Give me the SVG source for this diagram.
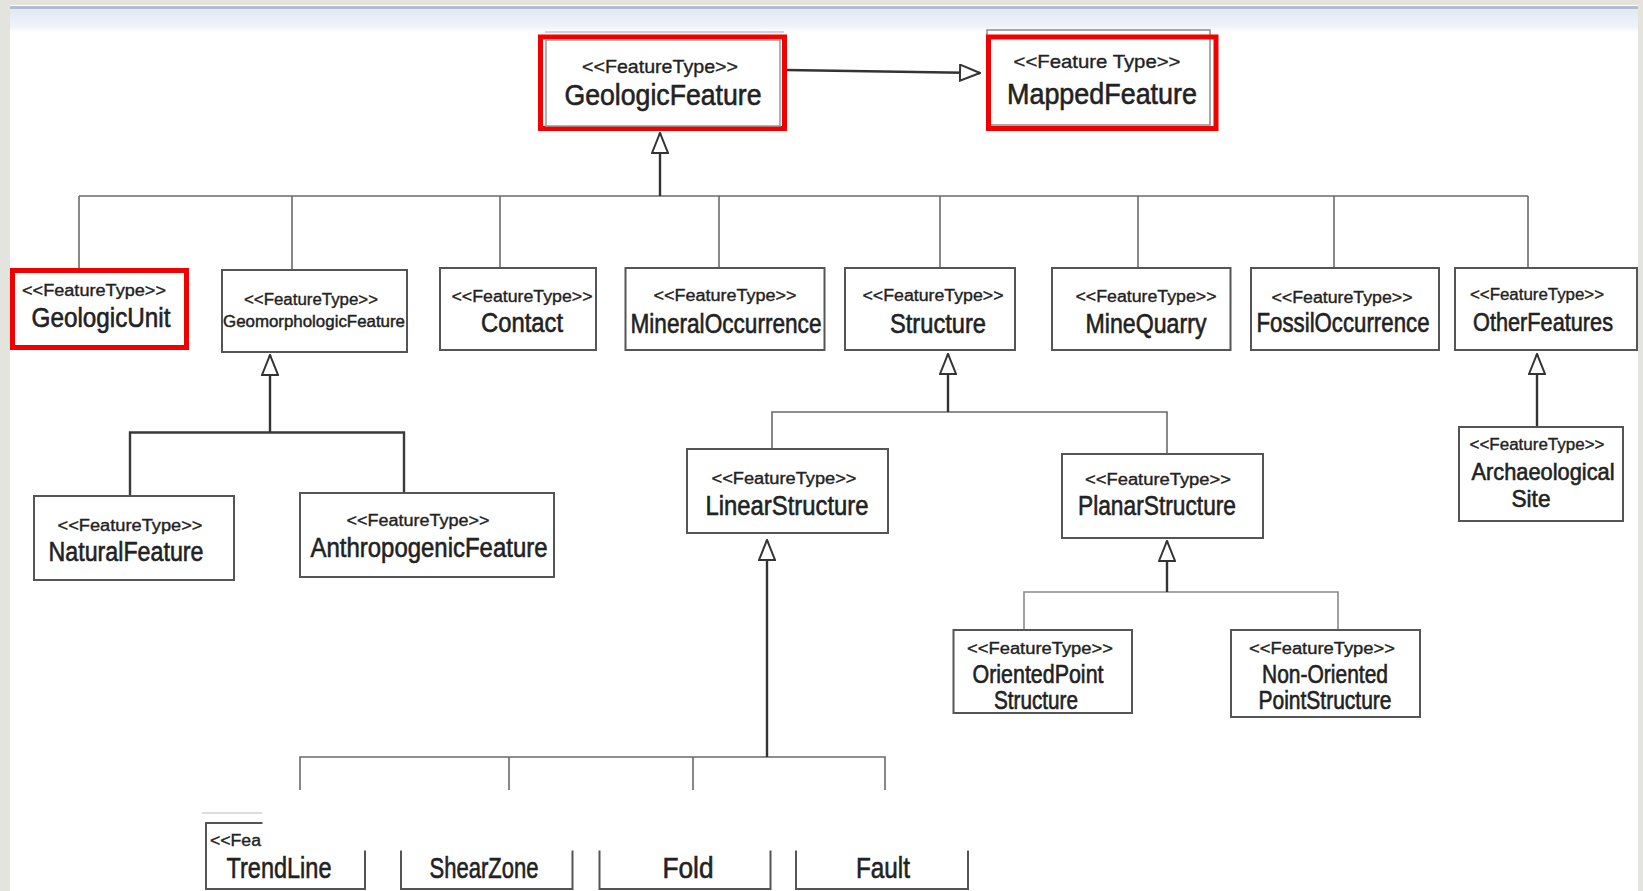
<svg xmlns="http://www.w3.org/2000/svg" width="1643" height="891" viewBox="0 0 1643 891">
<style>
.box{fill:#fff;stroke:#555;stroke-width:2}
.hl{fill:#fff;stroke:#f20000;stroke-width:5}
.ghost{fill:none;stroke:#999;stroke-width:1.5}
.st{font-family:"Liberation Sans",Arial,Helvetica,sans-serif;font-size:16px;fill:#222;stroke:#222;stroke-width:0.35;text-anchor:middle}
.nm{font-family:"Liberation Sans",Arial,Helvetica,sans-serif;font-size:27px;fill:#222;stroke:#222;stroke-width:0.6;text-anchor:middle}
.bus{fill:none;stroke:#6b6b6b;stroke-width:1.6}
.dk{fill:none;stroke:#3a3a3a;stroke-width:2.4}
.inh{fill:none;stroke:#333;stroke-width:2.4;marker-end:url(#tri)}
</style>
<defs>
<marker id="tri" viewBox="0 0 22 18" refX="21" refY="9" markerWidth="22" markerHeight="18" markerUnits="userSpaceOnUse" orient="auto">
<path d="M1,1 L21,9 L1,17 Z" fill="#fff" stroke="#333" stroke-width="2"/>
</marker>
<linearGradient id="band" x1="0" y1="0" x2="0" y2="1">
<stop offset="0" stop-color="#e2e9f5"/>
<stop offset="0.7" stop-color="#eef2f9"/>
<stop offset="1" stop-color="#ffffff"/>
</linearGradient>
</defs>
<g id="background">
<rect x="0" y="0" width="1643" height="891" fill="#fff"/>
<rect x="0" y="9" width="1643" height="24" fill="url(#band)"/>
<rect x="0" y="0" width="1643" height="5" fill="#e3e3de"/>
<line x1="0" y1="7.5" x2="1643" y2="7.5" stroke="#b2bdcf" stroke-width="3"/>
<rect x="0" y="0" width="10" height="891" fill="#e4e4df"/>
<rect x="1638" y="0" width="5" height="891" fill="#e4e4df"/>
</g>
<g id="connectors">
<path class="inh" d="M786,70 L980,73"/>
<path class="bus" d="M79,196 H1528"/>
<path class="bus" d="M79,196 V268 M292,196 V270 M500,196 V268 M719,196 V268 M940,196 V268 M1138,196 V268 M1334,196 V268 M1528,196 V268"/>
<path class="inh" d="M660,196 V133"/>
<path class="dk" d="M130,496 V432.5 H404 V493"/>
<path class="inh" d="M270,432.5 V355"/>
<path class="bus" d="M772,449 V412 H1167 V454"/>
<path class="inh" d="M948,412 V354"/>
<path class="inh" d="M1537,427 V354"/>
<path class="bus" d="M1024,630 V592 H1338 V630" style="stroke:#8a8a8a"/>
<path class="inh" d="M1167,592 V541"/>
<path class="bus" d="M300,790 V757 H885 V790 M509,757 V790 M693,757 V790"/>
<path class="inh" d="M767,757 V540"/>
</g>
<g id="geologic-feature">
<line class="ghost" x1="545" y1="32" x2="784" y2="32" style="stroke:#c4c4c4"/>
<rect class="hl" x="540.5" y="37" width="244" height="91.5"/>
<rect class="ghost" x="546" y="40" width="234" height="86"/>
<text class="st" x="660" y="73" style="font-size:19px" textLength="156" lengthAdjust="spacingAndGlyphs">&lt;&lt;FeatureType&gt;&gt;</text>
<text class="nm" x="663" y="105" style="font-size:30px" textLength="197" lengthAdjust="spacingAndGlyphs">GeologicFeature</text>
</g>
<g id="mapped-feature">
<rect class="ghost" x="987" y="30" width="223" height="95" style="stroke:#8c8c8c"/>
<rect class="hl" x="988.5" y="37" width="227.5" height="91.5" style="fill:none"/>
<text class="st" x="1097" y="68" style="font-size:19px" textLength="167" lengthAdjust="spacingAndGlyphs">&lt;&lt;Feature Type&gt;&gt;</text>
<text class="nm" x="1102" y="104" style="font-size:30px" textLength="190" lengthAdjust="spacingAndGlyphs">MappedFeature</text>
</g>
<g id="geologic-unit">
<rect class="hl" x="12.5" y="270.5" width="174" height="77"/>
<text class="st" x="94" y="296" textLength="144" lengthAdjust="spacingAndGlyphs">&lt;&lt;FeatureType&gt;&gt;</text>
<text class="nm" x="101" y="327" textLength="139" lengthAdjust="spacingAndGlyphs">GeologicUnit</text>
</g>
<g id="geomorphologic-feature">
<rect class="box" x="222" y="270" width="185" height="82"/>
<text class="st" x="311" y="305" textLength="134" lengthAdjust="spacingAndGlyphs">&lt;&lt;FeatureType&gt;&gt;</text>
<text class="nm" x="314" y="327" style="font-size:17px;stroke-width:0.45" textLength="182" lengthAdjust="spacingAndGlyphs">GeomorphologicFeature</text>
</g>
<g id="contact">
<rect class="box" x="440" y="268" width="156" height="82"/>
<text class="st" x="522" y="302" textLength="141" lengthAdjust="spacingAndGlyphs">&lt;&lt;FeatureType&gt;&gt;</text>
<text class="nm" x="522" y="332" textLength="82" lengthAdjust="spacingAndGlyphs">Contact</text>
</g>
<g id="mineral-occurrence">
<rect class="box" x="625.5" y="268" width="199" height="82"/>
<text class="st" x="725" y="301" textLength="143" lengthAdjust="spacingAndGlyphs">&lt;&lt;FeatureType&gt;&gt;</text>
<text class="nm" x="726" y="333" textLength="191" lengthAdjust="spacingAndGlyphs">MineralOccurrence</text>
</g>
<g id="structure">
<rect class="box" x="845" y="268" width="170" height="82"/>
<text class="st" x="933" y="301" textLength="141" lengthAdjust="spacingAndGlyphs">&lt;&lt;FeatureType&gt;&gt;</text>
<text class="nm" x="938" y="333" textLength="96" lengthAdjust="spacingAndGlyphs">Structure</text>
</g>
<g id="mine-quarry">
<rect class="box" x="1052" y="268" width="178.5" height="82"/>
<text class="st" x="1146" y="302" textLength="141" lengthAdjust="spacingAndGlyphs">&lt;&lt;FeatureType&gt;&gt;</text>
<text class="nm" x="1146" y="333" textLength="121" lengthAdjust="spacingAndGlyphs">MineQuarry</text>
</g>
<g id="fossil-occurrence">
<rect class="box" x="1251" y="268" width="188" height="82"/>
<text class="st" x="1342" y="303" textLength="141" lengthAdjust="spacingAndGlyphs">&lt;&lt;FeatureType&gt;&gt;</text>
<text class="nm" x="1343" y="332" textLength="173" lengthAdjust="spacingAndGlyphs">FossilOccurrence</text>
</g>
<g id="other-features">
<rect class="box" x="1455" y="268" width="182" height="82"/>
<text class="st" x="1537" y="300" textLength="134" lengthAdjust="spacingAndGlyphs">&lt;&lt;FeatureType&gt;&gt;</text>
<text class="nm" x="1543" y="331" style="font-size:25px" textLength="140" lengthAdjust="spacingAndGlyphs">OtherFeatures</text>
</g>
<g id="natural-feature">
<rect class="box" x="34" y="496" width="200" height="84"/>
<text class="st" x="130" y="531" textLength="145" lengthAdjust="spacingAndGlyphs">&lt;&lt;FeatureType&gt;&gt;</text>
<text class="nm" x="126" y="561" textLength="155" lengthAdjust="spacingAndGlyphs">NaturalFeature</text>
</g>
<g id="anthropogenic-feature">
<rect class="box" x="300" y="493" width="254" height="84"/>
<text class="st" x="418" y="526" textLength="143" lengthAdjust="spacingAndGlyphs">&lt;&lt;FeatureType&gt;&gt;</text>
<text class="nm" x="429" y="557" textLength="237" lengthAdjust="spacingAndGlyphs">AnthropogenicFeature</text>
</g>
<g id="linear-structure">
<rect class="box" x="687" y="449" width="201" height="84"/>
<text class="st" x="784" y="484" textLength="145" lengthAdjust="spacingAndGlyphs">&lt;&lt;FeatureType&gt;&gt;</text>
<text class="nm" x="787" y="515" textLength="163" lengthAdjust="spacingAndGlyphs">LinearStructure</text>
</g>
<g id="planar-structure">
<rect class="box" x="1062" y="454" width="201" height="84"/>
<text class="st" x="1158" y="485" textLength="146" lengthAdjust="spacingAndGlyphs">&lt;&lt;FeatureType&gt;&gt;</text>
<text class="nm" x="1157" y="515" textLength="158" lengthAdjust="spacingAndGlyphs">PlanarStructure</text>
</g>
<g id="archaeological-site">
<rect class="box" x="1459" y="427" width="164" height="94"/>
<text class="st" x="1537" y="450" textLength="135" lengthAdjust="spacingAndGlyphs">&lt;&lt;FeatureType&gt;&gt;</text>
<text class="nm" x="1543" y="480" style="font-size:24px" textLength="143" lengthAdjust="spacingAndGlyphs">Archaeological</text>
<text class="nm" x="1531" y="507" style="font-size:24px" textLength="39" lengthAdjust="spacingAndGlyphs">Site</text>
</g>
<g id="oriented-point-structure">
<rect class="box" x="953.5" y="630" width="178.5" height="83"/>
<text class="st" x="1040" y="654" textLength="146" lengthAdjust="spacingAndGlyphs">&lt;&lt;FeatureType&gt;&gt;</text>
<text class="nm" x="1038" y="683" style="font-size:25px" textLength="131" lengthAdjust="spacingAndGlyphs">OrientedPoint</text>
<text class="nm" x="1036" y="709" style="font-size:25px" textLength="84" lengthAdjust="spacingAndGlyphs">Structure</text>
</g>
<g id="non-oriented-point-structure">
<rect class="box" x="1231" y="630" width="189" height="87"/>
<text class="st" x="1322" y="654" textLength="146" lengthAdjust="spacingAndGlyphs">&lt;&lt;FeatureType&gt;&gt;</text>
<text class="nm" x="1325" y="683" style="font-size:25px" textLength="126" lengthAdjust="spacingAndGlyphs">Non-Oriented</text>
<text class="nm" x="1325" y="709" style="font-size:25px" textLength="133" lengthAdjust="spacingAndGlyphs">PointStructure</text>
</g>
<g id="trend-line">
<line x1="202" y1="813" x2="262" y2="813" stroke="#d0d0d0" stroke-width="1.5"/>
<rect class="box" x="206" y="823" width="159" height="66"/>
<text class="st" x="210" y="846" style="text-anchor:start" textLength="51" lengthAdjust="spacingAndGlyphs">&lt;&lt;Fea</text>
<text class="nm" x="279" y="878" style="font-size:29px" textLength="105" lengthAdjust="spacingAndGlyphs">TrendLine</text>
</g>
<g id="shear-zone">
<rect class="box" x="401" y="823" width="171.5" height="66"/>
<text class="nm" x="484" y="878" style="font-size:29px" textLength="109" lengthAdjust="spacingAndGlyphs">ShearZone</text>
</g>
<g id="fold">
<rect class="box" x="599.5" y="823" width="171" height="66"/>
<text class="nm" x="688" y="878" style="font-size:29px" textLength="51" lengthAdjust="spacingAndGlyphs">Fold</text>
</g>
<g id="fault">
<rect class="box" x="796" y="823" width="172" height="66"/>
<text class="nm" x="883" y="878" style="font-size:29px" textLength="54" lengthAdjust="spacingAndGlyphs">Fault</text>
</g>
<rect id="crop-cover" x="262.5" y="790" width="760" height="60.5" fill="#fff"/>
</svg>
